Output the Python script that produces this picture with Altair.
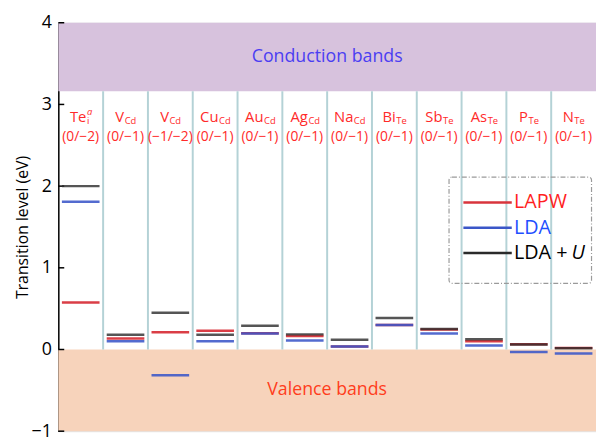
import altair as alt
import pandas as pd

# ---------------- data ----------------
names = ["Te", "V", "V", "Cu", "Au", "Ag", "Na", "Bi", "Sb", "As", "P", "N"]
subs = ["i", "Cd", "Cd", "Cd", "Cd", "Cd", "Cd", "Te", "Te", "Te", "Te", "Te"]
sups = ["a", "", "", "", "", "", "", "", "", "", "", ""]
charges = ["(0/\u22122)", "(0/\u22121)", "(\u22121/\u22122)", "(0/\u22121)", "(0/\u22121)", "(0/\u22121)",
           "(0/\u22121)", "(0/\u22121)", "(0/\u22121)", "(0/\u22121)", "(0/\u22121)", "(0/\u22121)"]

lapw = [0.575, 0.135, 0.21, 0.23, 0.20, 0.165, 0.036, 0.30, 0.245, 0.10, 0.063, 0.02]
lda = [1.81, 0.10, -0.315, 0.10, 0.195, 0.11, 0.036, 0.30, 0.195, 0.05, -0.03, -0.05]
ldau = [2.0, 0.18, 0.45, 0.18, 0.29, 0.185, 0.12, 0.385, 0.25, 0.125, 0.06, 0.015]

methods = ["LAPW", "LDA", "LDA + U"]
colors = ["#d8343c", "#3a56c8", "#2a2a2a"]
opacities = [0.95, 0.8, 1.0]

y_ticks = [-1, 0, 1, 2, 3, 4]
conduction = [3.16, 4.0]
valence = [-1.0, 0.0]
separators = list(range(1, 12))

# ---------------- tables ----------------
rows = []
for m, vals in zip(methods, [lapw, lda, ldau]):
    for i, v in enumerate(vals):
        rows.append({"col": i, "method": m, "value": v})
lines_df = pd.DataFrame(rows)

bands_df = pd.DataFrame({
    "band": ["Conduction bands", "Valence bands"],
    "lo": [conduction[0], valence[0]],
    "hi": [conduction[1], valence[1]],
})

FONT = "Open Sans"
x_scale = alt.Scale(domain=[0, 12], nice=False, zero=False)
y_scale = alt.Scale(domain=[-1, 4], nice=False, zero=False)
y_axis = alt.Axis(values=y_ticks, ticks=False, labelFontSize=18, labelColor="black",
                  labelPadding=7, domainColor="black", domainWidth=1.5, grid=False,
                  title="Transition level (eV)", titleFontSize=16, titleFontWeight="normal",
                  titleColor="black", titlePadding=1, labelFont=FONT, titleFont=FONT)


def Y(field, **kw):
    return alt.Y(field, type="quantitative", scale=y_scale, axis=y_axis, **kw)


# ---------------- layers ----------------
bands = alt.Chart(bands_df).mark_rect().encode(
    x=alt.X(datum=0, scale=x_scale, axis=None),
    x2=alt.X2(datum=12),
    y=Y("lo"),
    y2="hi",
    color=alt.Color("band:N", scale=alt.Scale(domain=["Conduction bands", "Valence bands"],
                                              range=["#d7c2dd", "#f7d3bb"]), legend=None),
)

band_text = alt.Chart(pd.DataFrame({
    "band": ["Conduction bands", "Valence bands"],
    "mid": [sum(conduction) / 2, sum(valence) / 2],
})).mark_text(fontSize=18, font=FONT, baseline="middle").encode(
    x=alt.X(datum=6, scale=x_scale, axis=None),
    y=Y("mid"),
    text="band:N",
    color=alt.Color("band:N", scale=alt.Scale(domain=["Conduction bands", "Valence bands"],
                                              range=["#4b3ef2", "#ff3d1c"]), legend=None),
)

seps = alt.Chart(pd.DataFrame({"x": separators})).mark_rule(
    color="#b4d2d6", strokeWidth=2).encode(
    x=alt.X("x:Q", scale=x_scale, axis=None),
    y=Y("lo:Q"),
    y2="hi:Q",
).transform_calculate(lo=str(valence[1]), hi=str(conduction[0]))

ticks = alt.Chart(pd.DataFrame({"t": y_ticks})).mark_rule(color="black", strokeWidth=1.5).encode(
    x=alt.value(0), x2=alt.value(6), y=Y("t:Q"))

level_lines = alt.Chart(lines_df).transform_calculate(
    xs="datum.col + 0.08", xe="datum.col + 0.92"
).mark_rule(strokeWidth=2.5).encode(
    x=alt.X("xs:Q", scale=x_scale, axis=None),
    x2="xe:Q",
    y=Y("value:Q"),
    color=alt.Color("method:N", scale=alt.Scale(domain=methods, range=colors), legend=None),
    opacity=alt.Opacity("method:N", scale=alt.Scale(domain=methods, range=opacities), legend=None),
)

# --- column labels (main text + subscript/superscript) ---
em = {"T": .56, "e": .56, "V": .6, "C": .63, "u": .61, "A": .66, "g": .55, "N": .74, "a": .56,
      "B": .64, "i": .26, "S": .55, "b": .61, "s": .48, "P": .6, "d": .61}


def width(s, size):
    return sum(em.get(c, .55) for c in s) * size


MAIN = 15
SMALL = 9.5
NAME_Y = 2.84
CHARGE_Y = 2.60
label_layers = []
for i, (nm, sb, sp) in enumerate(zip(names, subs, sups)):
    wm = width(nm, MAIN)
    ws = max(width(sb, SMALL), width(sp, SMALL))
    k = (wm - ws) / 2
    d = pd.DataFrame({"c": [i + 0.5], "y": [NAME_Y], "t": [nm], "s": [sb], "p": [sp]})
    base = alt.Chart(d)
    label_layers.append(base.mark_text(align="right", baseline="middle", fontSize=MAIN,
                                       font=FONT, color="#ff2a2a", dx=k).encode(
        x=alt.X("c:Q", scale=x_scale, axis=None), y=Y("y:Q"), text="t:N"))
    label_layers.append(base.mark_text(align="left", baseline="middle", fontSize=SMALL,
                                       font=FONT, color="#ff2a2a", dx=k + 0.5, dy=4).encode(
        x=alt.X("c:Q", scale=x_scale, axis=None), y=Y("y:Q"), text="s:N"))
    if sp:
        label_layers.append(base.mark_text(align="left", baseline="middle", fontSize=SMALL,
                                           font=FONT, color="#ff2a2a", fontStyle="italic",
                                           dx=k + 0.5, dy=-6).encode(
            x=alt.X("c:Q", scale=x_scale, axis=None), y=Y("y:Q"), text="p:N"))

charge_df = pd.DataFrame({"c": [i + 0.5 for i in range(12)], "y": [CHARGE_Y] * 12, "t": charges})
charge_text = alt.Chart(charge_df).mark_text(fontSize=14, font=FONT, color="#ff2a2a",
                                             baseline="middle").encode(
    x=alt.X("c:Q", scale=x_scale, axis=None), y=Y("y:Q"), text="t:N")

# --- legend box ---
LEG_X0, LEG_X1, LEG_Y0, LEG_Y1 = 8.72, 11.9, 0.81, 2.11
leg_box = alt.Chart(pd.DataFrame({"a": [LEG_X0], "b": [LEG_X1], "lo": [LEG_Y0], "hi": [LEG_Y1]})).mark_rect(
    fillOpacity=0, stroke="#9a9a9a", strokeWidth=1.2, strokeDash=[5, 2, 1, 2], cornerRadius=3).encode(
    x=alt.X("a:Q", scale=x_scale, axis=None), x2="b:Q", y=Y("lo:Q"), y2="hi:Q")

leg_df = pd.DataFrame({"method": methods, "ly": [1.80 - 0.31 * j for j in range(3)],
                       "label": ["LAPW", "LDA", "LDA + "]})
leg_lines = alt.Chart(leg_df).transform_calculate(xs="9.04", xe="10.12").mark_rule(strokeWidth=2.5).encode(
    x=alt.X("xs:Q", scale=x_scale, axis=None), x2="xe:Q", y=Y("ly:Q"),
    color=alt.Color("method:N", scale=alt.Scale(domain=methods, range=colors), legend=None))
leg_text = alt.Chart(leg_df).transform_calculate(xt="10.17").mark_text(
    align="left", baseline="middle", fontSize=20, font=FONT).encode(
    x=alt.X("xt:Q", scale=x_scale, axis=None), y=Y("ly:Q"), text="label:N",
    color=alt.Color("method:N", scale=alt.Scale(domain=methods, range=["#ff1f1f", "#1f4fff", "#000000"]),
                    legend=None))
leg_u = alt.Chart(leg_df.iloc[[2]]).transform_calculate(xt="10.17").mark_text(
    align="left", baseline="middle", fontSize=20, font=FONT, fontStyle="italic", color="black",
    dx=width("LDA", 20) + 23).encode(
    x=alt.X("xt:Q", scale=x_scale, axis=None), y=Y("ly:Q"), text=alt.value("U"))

chart = alt.layer(
    bands, band_text, seps, ticks, level_lines, charge_text, *label_layers,
    leg_box, leg_lines, leg_text, leg_u,
).resolve_scale(color="independent", opacity="independent").properties(
    width=545, height=414,
    autosize=alt.AutoSizeParams(type="none"),
    padding={"left": 51, "top": 12, "right": 0, "bottom": 7},
).configure_view(stroke=None).configure(font=FONT)

chart.save("out.html", embed_options={"renderer": "svg", "actions": False})
